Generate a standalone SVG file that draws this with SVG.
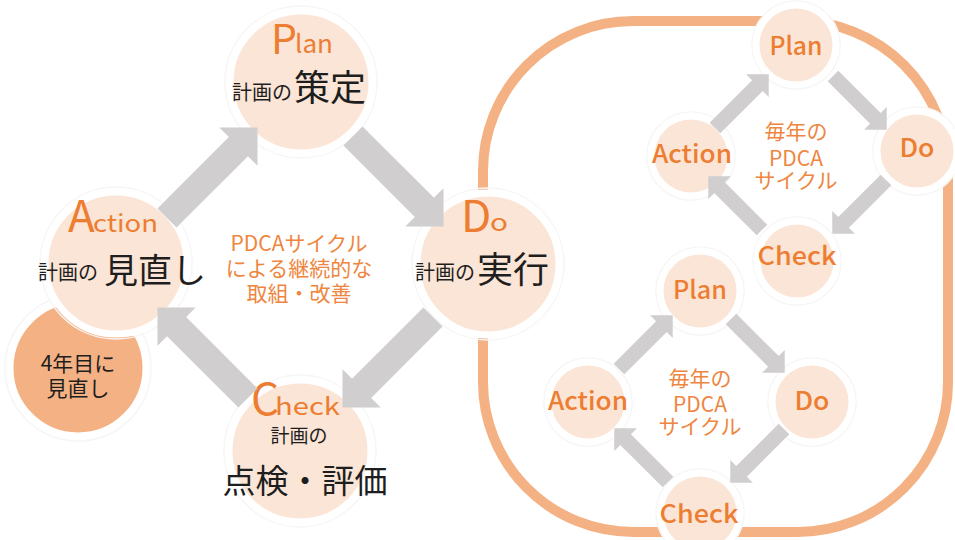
<svg xmlns="http://www.w3.org/2000/svg" xmlns:xlink="http://www.w3.org/1999/xlink" width="955" height="540" viewBox="0 0 955 540">
<style>
text{font-family:"Noto Sans CJK JP","Noto Sans",sans-serif}
.n{fill:#FBE5D6;stroke:#fff;stroke-width:7}
.d{fill:#F4B183;stroke:#fff;stroke-width:7}
.h{fill:none;stroke:#f6f6f6;stroke-width:1.5}
.arr{fill:#D0CECE}
.o{fill:#ED7D31}
.c{fill:#EE8640}
.k{fill:#1e1e1e}
.s{font-size:25px;font-weight:500;fill:#ED7D31}
</style>
<defs>
<path id="big" d="M0,-13.5 L101,-13.5 L101,-27 L128,0 L101,27 L101,13.5 L0,13.5 Z"/>
<path id="sm" d="M0,-7.5 L60,-7.5 L60,-16 L76,0 L60,16 L60,7.5 L0,7.5 Z"/>
</defs>
<rect x="483" y="21" width="465" height="511" rx="150" ry="150" fill="none" stroke="#F4B183" stroke-width="10"/>

<g id="review4">
<circle class="h" cx="78" cy="368" r="73"/>
<circle class="d" cx="78" cy="368" r="68"/>
<text class="k" font-size="21" text-anchor="middle"><tspan x="78" y="371">4年目に</tspan><tspan x="78" y="396">見直し</tspan></text>
</g>

<g id="plan">
<circle class="h" cx="301" cy="82" r="76"/>
<circle class="n" cx="301" cy="82" r="71"/>
<text class="o" x="271" y="54" font-size="41">P</text>
<text class="o" x="295" y="53" font-size="25" textLength="38" lengthAdjust="spacingAndGlyphs">lan</text>
<text class="k" x="232" y="100" font-size="20">計画の</text>
<text class="k" x="294" y="101" font-size="36">策定</text>
</g>

<g id="action">
<circle class="h" cx="116" cy="263" r="76"/>
<circle class="n" cx="116" cy="263" r="71"/>
<text class="o" x="68" y="232" font-size="44">A</text>
<text class="o" x="93" y="232" font-size="24" textLength="65" lengthAdjust="spacingAndGlyphs">ction</text>
<text class="k" x="38" y="280" font-size="20">計画の</text>
<text class="k" x="104" y="283" font-size="34">見直し</text>
</g>

<g id="do">
<circle class="h" cx="488" cy="264" r="76"/>
<circle class="n" cx="488" cy="264" r="71"/>
<text class="o" x="461" y="232" font-size="44">D</text>
<text class="o" x="490" y="231" font-size="24" textLength="18" lengthAdjust="spacingAndGlyphs">o</text>
<text class="k" x="415" y="280" font-size="20">計画の</text>
<text class="k" x="477" y="283" font-size="36">実行</text>
</g>

<g id="check">
<circle class="h" cx="300" cy="451" r="76"/>
<circle class="n" cx="300" cy="451" r="71"/>
<text class="o" x="251" y="415" font-size="44">C</text>
<text class="o" x="275" y="415" font-size="24" textLength="65" lengthAdjust="spacingAndGlyphs">heck</text>
<text class="k" x="299" y="443" font-size="19" text-anchor="middle">計画の</text>
<text class="k" x="305" y="493" font-size="33" text-anchor="middle">点検・評価</text>
</g>

<g id="center-label">
<text class="c" font-size="21" text-anchor="middle"><tspan x="299" y="251">PDCAサイクル</tspan><tspan x="299" y="276">による継続的な</tspan><tspan x="299" y="301">取組・改善</tspan></text>
</g>

<g id="y1-plan">
<circle class="h" cx="796" cy="45" r="44"/>
<circle class="n" cx="796" cy="45" r="40"/>
<text class="s" x="796" y="55" text-anchor="middle" textLength="53" lengthAdjust="spacingAndGlyphs">Plan</text>
</g>
<g id="y1-do">
<circle class="h" cx="917" cy="151" r="44"/>
<circle class="n" cx="917" cy="151" r="40"/>
<text class="s" x="917" y="157" text-anchor="middle" textLength="35" lengthAdjust="spacingAndGlyphs">Do</text>
</g>
<g id="y1-action">
<circle class="h" cx="691" cy="156" r="44"/>
<circle class="n" cx="691" cy="156" r="40"/>
<text class="s" x="692" y="163" text-anchor="middle" textLength="80" lengthAdjust="spacingAndGlyphs">Action</text>
</g>
<g id="y1-check">
<circle class="h" cx="797" cy="261" r="44"/>
<circle class="n" cx="797" cy="261" r="40"/>
<text class="s" x="797" y="265" text-anchor="middle" textLength="79" lengthAdjust="spacingAndGlyphs">Check</text>
</g>
<g id="y1-label">
<text class="c" font-size="21" text-anchor="middle"><tspan x="796" y="139">毎年の</tspan><tspan x="796" y="166">PDCA</tspan><tspan x="796" y="188">サイクル</tspan></text>
</g>

<g id="y2-plan">
<circle class="h" cx="700" cy="291" r="44"/>
<circle class="n" cx="700" cy="291" r="40"/>
<text class="s" x="700" y="299" text-anchor="middle" textLength="54" lengthAdjust="spacingAndGlyphs">Plan</text>
</g>
<g id="y2-do">
<circle class="h" cx="812" cy="402" r="44"/>
<circle class="n" cx="812" cy="402" r="40"/>
<text class="s" x="812" y="410" text-anchor="middle" textLength="35" lengthAdjust="spacingAndGlyphs">Do</text>
</g>
<g id="y2-action">
<circle class="h" cx="588" cy="402" r="44"/>
<circle class="n" cx="588" cy="402" r="40"/>
<text class="s" x="588" y="410" text-anchor="middle" textLength="80" lengthAdjust="spacingAndGlyphs">Action</text>
</g>
<g id="y2-check">
<circle class="h" cx="700" cy="513" r="44"/>
<circle class="n" cx="700" cy="513" r="40"/>
<text class="s" x="699" y="523" text-anchor="middle" textLength="79" lengthAdjust="spacingAndGlyphs">Check</text>
</g>
<g id="y2-label">
<text class="c" font-size="21" text-anchor="middle"><tspan x="700" y="386">毎年の</tspan><tspan x="700" y="412">PDCA</tspan><tspan x="700" y="434">サイクル</tspan></text>
</g>

<g id="connectors" class="arr">
<use xlink:href="#big" transform="translate(167,218) rotate(-45)"/>
<use xlink:href="#big" transform="translate(353,136) rotate(45)"/>
<use xlink:href="#big" transform="translate(433,317) rotate(135)"/>
<use xlink:href="#big" transform="translate(248,398) rotate(225)"/>
<use xlink:href="#sm" transform="translate(715,128) rotate(-45)"/>
<use xlink:href="#sm" transform="translate(833,76) rotate(45)"/>
<use xlink:href="#sm" transform="translate(886,180) rotate(135)"/>
<use xlink:href="#sm" transform="translate(762,230) rotate(225)"/>
<use xlink:href="#sm" transform="translate(619,369) rotate(-45)"/>
<use xlink:href="#sm" transform="translate(731,319) rotate(45)"/>
<use xlink:href="#sm" transform="translate(784,429) rotate(135)"/>
<use xlink:href="#sm" transform="translate(668,482) rotate(225)"/>
</g>
</svg>
